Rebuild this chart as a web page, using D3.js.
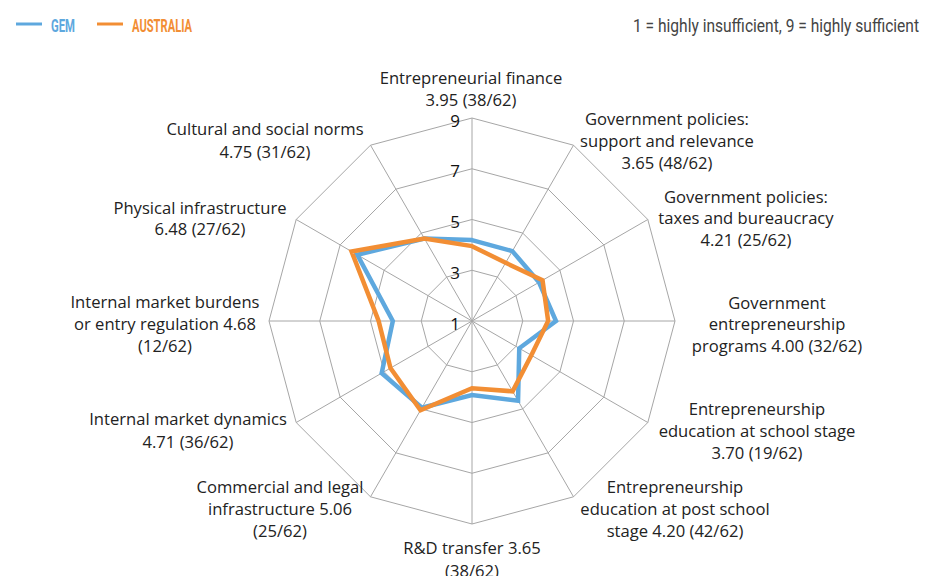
<!DOCTYPE html>
<html><head><meta charset="utf-8">
<script src="https://cdn.jsdelivr.net/npm/d3@7"></script>
<style>
body{margin:0;background:#fff;}
svg{display:block;}
</style></head>
<body>
<svg id="chart" width="925" height="576"></svg>
<script>
const categories = [
  ["Entrepreneurial finance","3.95 (38/62)"],
  ["Government policies:","support and relevance","3.65 (48/62)"],
  ["Government policies:","taxes and bureaucracy","4.21 (25/62)"],
  ["Government","entrepreneurship","programs 4.00 (32/62)"],
  ["Entrepreneurship","education at school stage","3.70 (19/62)"],
  ["Entrepreneurship","education at post school","stage 4.20 (42/62)"],
  ["R&D transfer 3.65","(38/62)"],
  ["Commercial and legal","infrastructure 5.06","(25/62)"],
  ["Internal market dynamics","4.71 (36/62)"],
  ["Internal market burdens","or entry regulation 4.68","(12/62)"],
  ["Physical infrastructure","6.48 (27/62)"],
  ["Cultural and social norms","4.75 (31/62)"]
];
const gemValues = [4.19, 4.18, 4.05, 4.31, 3.15, 4.63, 3.92, 4.95, 5.11, 4.12, 6.22, 4.75];
const australiaValues = [3.95, 3.65, 4.21, 4.00, 3.70, 4.20, 3.65, 5.06, 4.71, 4.68, 6.48, 4.75];
const tickValues = [1, 3, 5, 7, 9];
const seriesNames = ["GEM", "AUSTRALIA"];
const noteText = "1 = highly insufficient,  9 = highly sufficient";

// label anchor positions (center x, first line center y, line spacing)
const labelPos = [
  [471, 77, 22.5],[667, 118, 22],[746, 196, 21.5],[777, 302, 21.5],
  [757, 408, 22],[675, 486, 22],[472, 547, 23],[280, 486, 22],
  [188, 418, 23],[165, 301, 22],[200, 207, 21.5],[265, 128, 23]
];

const svg = d3.select("#chart");
const cx = 472, cy = 321, R = 203;
const n = categories.length;
const r = d3.scaleLinear().domain([1, 9]).range([0, R]);
const angle = d3.scaleLinear().domain([0, n]).range([0, 2 * Math.PI]);
const pt = (i, v) => [cx + r(v) * Math.sin(angle(i)), cy - r(v) * Math.cos(angle(i))];

const gridColor = "#a6a6a6";
const g = svg.append("g");
// rings
tickValues.filter(t => t > 1).forEach(t => {
  g.append("path")
    .attr("d", d3.line()(d3.range(n).map(i => pt(i, t))) + "Z")
    .attr("fill", "none").attr("stroke", gridColor).attr("stroke-width", 1);
});
// spokes
d3.range(n).forEach(i => {
  const [x, y] = pt(i, 9);
  g.append("line").attr("x1", cx).attr("y1", cy).attr("x2", x).attr("y2", y)
    .attr("stroke", gridColor).attr("stroke-width", 1);
});
// tick labels
tickValues.forEach(t => {
  svg.append("text").attr("x", cx - 17).attr("y", cy - r(t) + 2)
    .attr("text-anchor", "middle").attr("dominant-baseline", "central")
    .attr("font-family", "Open Sans, sans-serif").attr("font-size", 17).attr("fill", "#111")
    .text(t);
});

const colors = {"GEM": "#5ea8de", "AUSTRALIA": "#f28e34"};
const line = d3.line().curve(d3.curveLinearClosed);
[["GEM", gemValues], ["AUSTRALIA", australiaValues]].forEach(([name, vals]) => {
  svg.append("path")
    .attr("d", line(vals.map((v, i) => pt(i, v))))
    .attr("fill", "none").attr("stroke", colors[name]).attr("stroke-width", 4.5)
    .attr("stroke-linejoin", "miter");
});

// category labels
categories.forEach((lines, i) => {
  const [x, y0, dy] = labelPos[i];
  const t = svg.append("text").attr("text-anchor", "middle")
    .attr("font-family", "Open Sans, sans-serif").attr("font-size", 16.6).attr("fill", "#222");
  lines.forEach((s, k) => {
    t.append("tspan").attr("x", x).attr("y", y0 + k * dy).attr("dominant-baseline", "central").text(s);
  });
});

// legend
const legendItems = [
  {name: "GEM", x1: 16, x2: 42, tx: 51, w: 24},
  {name: "AUSTRALIA", x1: 97, x2: 123, tx: 132, w: 60}
];
legendItems.forEach(d => {
  svg.append("line").attr("x1", d.x1).attr("x2", d.x2).attr("y1", 24).attr("y2", 24)
    .attr("stroke", colors[d.name]).attr("stroke-width", 3);
  svg.append("text").attr("x", d.tx).attr("y", 25).attr("dominant-baseline", "central")
    .attr("font-family", "Roboto, sans-serif").attr("font-weight", "bold").attr("font-size", 19)
    .attr("fill", colors[d.name]).attr("textLength", d.w).attr("lengthAdjust", "spacingAndGlyphs")
    .text(d.name);
});
svg.append("text").attr("x", 919).attr("y", 25).attr("text-anchor", "end").attr("dominant-baseline", "central")
  .attr("font-family", "Roboto, sans-serif").attr("font-size", 19).attr("fill", "#444")
  .attr("textLength", 286).attr("lengthAdjust", "spacingAndGlyphs")
  .text(noteText);
</script>
</body></html>
